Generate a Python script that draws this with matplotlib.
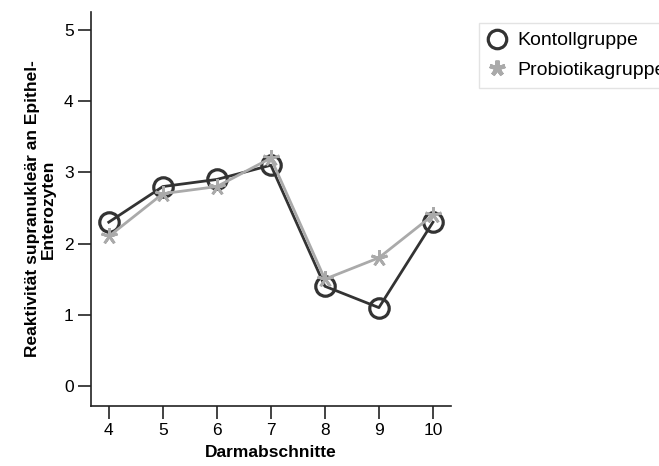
import matplotlib
matplotlib.use("Agg")
import matplotlib.pyplot as plt

plt.rcParams["font.family"] = ["Liberation Sans", "DejaVu Sans"]

abschnitte = [4, 5, 6, 7, 8, 9, 10]
kontroll = [2.3, 2.8, 2.9, 3.1, 1.4, 1.1, 2.3]
probiotika = [2.1, 2.7, 2.8, 3.2, 1.5, 1.8, 2.4]
yticks = [0, 1, 2, 3, 4, 5]

dark = "#333333"
light = "#aaaaaa"
star = (5, 2, 0)

fig = plt.figure(figsize=(6.59, 4.66), dpi=100)
ax = fig.add_axes([0.138, 0.129, 0.546, 0.845])

ax.plot(abschnitte, kontroll, color=dark, lw=2.0, zorder=2)
ax.plot(abschnitte, kontroll, ls="none", marker="o", ms=14, mfc="none",
        mec=dark, mew=2.3, zorder=3, label="Kontollgruppe")
ax.plot(abschnitte, probiotika, color=light, lw=2.0, zorder=4)
ax.plot(abschnitte, probiotika, ls="none", marker=star, ms=12, mfc=light,
        mec=light, mew=2.0, zorder=5, label="Probiotikagruppe")

ax.set_xlim(3.67, 10.33)
ax.set_ylim(-0.28, 5.25)
ax.set_xticks(abschnitte)
ax.set_yticks(yticks)
ax.tick_params(direction="out", length=9.5, width=1.2, color="#222222",
               labelsize=12.5, pad=3)
for side in ["top", "right"]:
    ax.spines[side].set_visible(False)
for side in ["left", "bottom"]:
    ax.spines[side].set_linewidth(1.2)
    ax.spines[side].set_color("#222222")

ax.set_xlabel("Darmabschnitte", fontsize=12.5, fontweight="bold", labelpad=5)
ax.set_ylabel("Reaktivität supranukleär an Epithel-\nEnterozyten", fontsize=12.5,
              fontweight="bold", labelpad=6, linespacing=1.0)

leg = fig.legend(loc="upper left", bbox_to_anchor=(479 / 659, 1 - 23 / 466),
                 fontsize=14, frameon=True, fancybox=False, borderpad=0.45,
                 handletextpad=0.5, handlelength=1.0, labelspacing=0.62,
                 borderaxespad=0, markerscale=0.95)
leg.get_frame().set_edgecolor("#dddddd")
leg.get_frame().set_linewidth(1.0)
for h in leg.legend_handles[1:]:
    h.set_markeredgewidth(3.0)

fig.savefig("out.png", dpi=100)
